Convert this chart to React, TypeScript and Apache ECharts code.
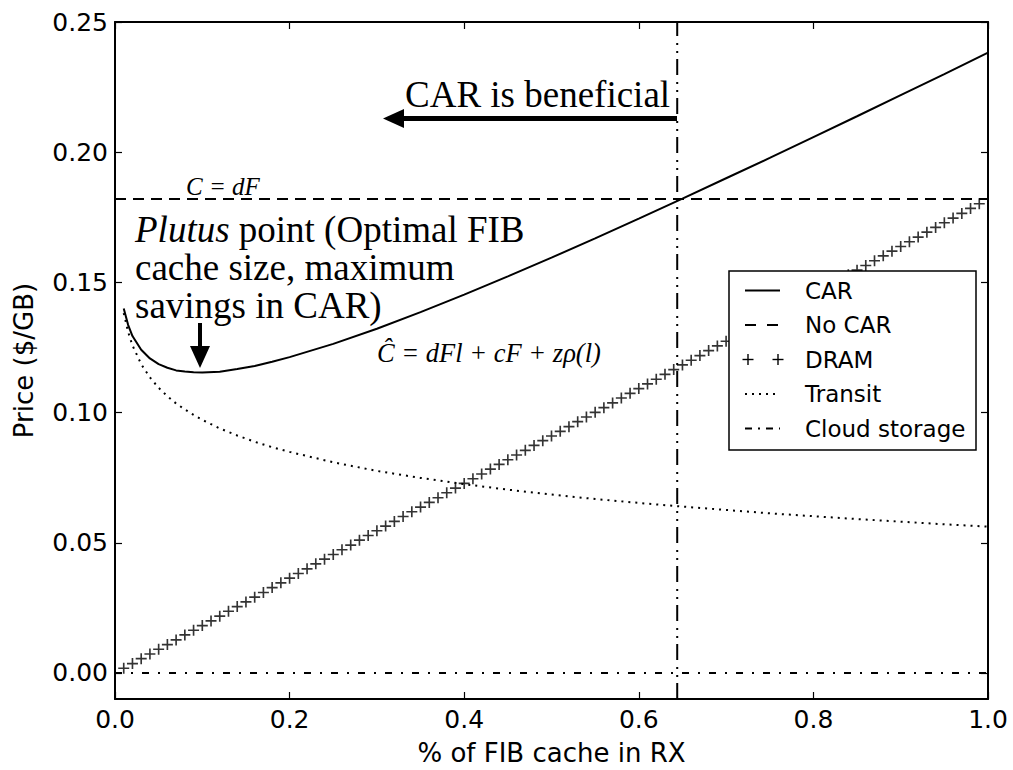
import React, { useEffect, useRef } from "react";
import * as echarts from "echarts";

// ---------- data ----------
const CURVE_X = [0.01, 0.015, 0.02, 0.03, 0.04, 0.05, 0.06, 0.07, 0.08, 0.09, 0.10, 0.12, 0.14, 0.16, 0.18, 0.20, 0.25, 0.30, 0.35, 0.40, 0.45, 0.50, 0.55, 0.60, 0.65, 0.70, 0.75, 0.80, 0.85, 0.90, 0.95, 1.00];
const CAR = [0.1400, 0.1337, 0.1294, 0.1241, 0.1208, 0.1186, 0.1172, 0.1162, 0.1158, 0.1155, 0.1154, 0.1157, 0.1167, 0.1179, 0.1195, 0.1213, 0.1264, 0.1322, 0.1386, 0.1453, 0.1523, 0.1595, 0.1669, 0.1745, 0.1822, 0.1900, 0.1978, 0.2058, 0.2138, 0.2219, 0.2300, 0.2382];
const TRANSIT = [0.1382, 0.1310, 0.1258, 0.1186, 0.1135, 0.1095, 0.1063, 0.1035, 0.1012, 0.0991, 0.0972, 0.0939, 0.0912, 0.0888, 0.0867, 0.0849, 0.0809, 0.0776, 0.0749, 0.0725, 0.0704, 0.0685, 0.0668, 0.0653, 0.0639, 0.0626, 0.0613, 0.0602, 0.0591, 0.0581, 0.0571, 0.0562];

const DRAM_X = [
  0.01, 0.02, 0.03, 0.04, 0.05, 0.06, 0.07, 0.08, 0.09, 0.10,
  0.11, 0.12, 0.13, 0.14, 0.15, 0.16, 0.17, 0.18, 0.19, 0.20,
  0.21, 0.22, 0.23, 0.24, 0.25, 0.26, 0.27, 0.28, 0.29, 0.30,
  0.31, 0.32, 0.33, 0.34, 0.35, 0.36, 0.37, 0.38, 0.39, 0.40,
  0.41, 0.42, 0.43, 0.44, 0.45, 0.46, 0.47, 0.48, 0.49, 0.50,
  0.51, 0.52, 0.53, 0.54, 0.55, 0.56, 0.57, 0.58, 0.59, 0.60,
  0.61, 0.62, 0.63, 0.64, 0.65, 0.66, 0.67, 0.68, 0.69, 0.70,
  0.71, 0.72, 0.73, 0.74, 0.75, 0.76, 0.77, 0.78, 0.79, 0.80,
  0.81, 0.82, 0.83, 0.84, 0.85, 0.86, 0.87, 0.88, 0.89, 0.90,
  0.91, 0.92, 0.93, 0.94, 0.95, 0.96, 0.97, 0.98, 0.99,
];
const DRAM = [
  0.0018, 0.0036, 0.0055, 0.0073, 0.0091, 0.0109, 0.0127, 0.0146, 0.0164, 0.0182,
  0.0200, 0.0218, 0.0237, 0.0255, 0.0273, 0.0291, 0.0309, 0.0328, 0.0346, 0.0364,
  0.0382, 0.0400, 0.0419, 0.0437, 0.0455, 0.0473, 0.0491, 0.0510, 0.0528, 0.0546,
  0.0564, 0.0582, 0.0601, 0.0619, 0.0637, 0.0655, 0.0673, 0.0692, 0.0710, 0.0728,
  0.0746, 0.0764, 0.0783, 0.0801, 0.0819, 0.0837, 0.0855, 0.0874, 0.0892, 0.0910,
  0.0928, 0.0946, 0.0965, 0.0983, 0.1001, 0.1019, 0.1037, 0.1056, 0.1074, 0.1092,
  0.1110, 0.1128, 0.1147, 0.1165, 0.1183, 0.1201, 0.1219, 0.1238, 0.1256, 0.1274,
  0.1292, 0.1310, 0.1329, 0.1347, 0.1365, 0.1383, 0.1401, 0.1420, 0.1438, 0.1456,
  0.1474, 0.1492, 0.1511, 0.1529, 0.1547, 0.1565, 0.1583, 0.1602, 0.1620, 0.1638,
  0.1656, 0.1674, 0.1693, 0.1711, 0.1729, 0.1747, 0.1765, 0.1784, 0.1802,
];

const NO_CAR = 0.182;
const CLOUD_STORAGE = 0.0;
const BREAK_EVEN_X = 0.644;
const X_RANGE = [0, 1];
const Y_RANGE = [-0.01, 0.25];
const Y_TICKS = [0, 0.05, 0.1, 0.15, 0.2, 0.25];

const LEGEND_LABELS = ["CAR", "No CAR", "DRAM", "Transit", "Cloud storage"];

// ---------- styling ----------
const SANS = '"DejaVu Sans", sans-serif';
const SERIF = '"Liberation Serif", "Times New Roman", serif';
const PLUS =
  "path://M4.25,0 L5.75,0 L5.75,4.25 L10,4.25 L10,5.75 L5.75,5.75 L5.75,10 L4.25,10 L4.25,5.75 L0,5.75 L0,4.25 L4.25,4.25 Z";

const zip = (xs: number[], ys: number[]) => xs.map((x, i) => [x, ys[i]]);

export default function App() {
  const ref = useRef<HTMLDivElement>(null);

  useEffect(() => {
    if (!ref.current) return;
    const chart = echarts.init(ref.current, null, { renderer: "svg" });

    const axisLine = { show: true, onZero: false, lineStyle: { color: "#000", width: 2 } };
    const tick = { show: true, inside: true, length: 7, lineStyle: { color: "#000", width: 1.2 } };

    // legend (drawn as graphics to match the sample styles)
    const lx1 = 745, lx2 = 780, ltx = 805;
    const ly = [290.5, 325, 359.5, 394, 428.5];
    const legendEls: any[] = [
      {
        type: "rect",
        shape: { x: 729, y: 271, width: 247, height: 179 },
        style: { fill: "#fff", stroke: "#000", lineWidth: 1.5 },
        z: 100,
      },
    ];
    const samples: any[] = [
      { lineDash: null },
      { lineDash: [11, 11] },
      null,
      { lineDash: [2, 5] },
      { lineDash: [7, 6, 2, 6] },
    ];
    LEGEND_LABELS.forEach((lab, i) => {
      const y = ly[i];
      const s = samples[i];
      if (s) {
        legendEls.push({
          type: "line",
          shape: { x1: lx1, y1: y, x2: lx2, y2: y },
          style: { stroke: "#000", lineWidth: 2, lineDash: s.lineDash || undefined },
          z: 101,
        });
      } else {
        [748, 778].forEach((cx) => {
          legendEls.push({
            type: "line",
            shape: { x1: cx - 5.5, y1: y, x2: cx + 5.5, y2: y },
            style: { stroke: "#000", lineWidth: 1.4 },
            z: 101,
          });
          legendEls.push({
            type: "line",
            shape: { x1: cx, y1: y - 5.5, x2: cx, y2: y + 5.5 },
            style: { stroke: "#000", lineWidth: 1.4 },
            z: 101,
          });
        });
      }
      legendEls.push({
        type: "text",
        x: ltx,
        y: y,
        style: {
          text: lab,
          fontSize: 23,
          fontFamily: SANS,
          fill: "#000",
          align: "left",
          verticalAlign: "middle",
        },
        z: 101,
      });
    });

    const annotations: any[] = [
      // "CAR is beneficial"
      {
        type: "text",
        x: 405,
        y: 94,
        style: { text: "CAR is beneficial", fontSize: 37, fontFamily: SERIF, fill: "#000", align: "left", verticalAlign: "middle" },
        z: 50,
      },
      {
        type: "line",
        shape: { x1: 400, y1: 118.5, x2: 677, y2: 118.5 },
        style: { stroke: "#000", lineWidth: 5 },
        z: 50,
      },
      {
        type: "polygon",
        shape: { points: [[383, 118.5], [404, 109], [404, 128]] },
        style: { fill: "#000" },
        z: 50,
      },
      // C = dF
      {
        type: "text",
        x: 186,
        y: 186,
        style: { text: "C = dF", fontSize: 25, fontStyle: "italic", fontFamily: SERIF, fill: "#000", align: "left", verticalAlign: "middle" },
        z: 50,
      },
      // Plutus point text
      {
        type: "text",
        x: 135,
        y: 229.5,
        style: {
          text: "{it|Plutus} point (Optimal FIB",
          fontSize: 37,
          fontFamily: SERIF,
          fill: "#000",
          align: "left",
          verticalAlign: "middle",
          rich: { it: { fontSize: 37, fontFamily: SERIF, fontStyle: "italic", fill: "#000" } },
        },
        z: 50,
      },
      {
        type: "text",
        x: 135,
        y: 267.5,
        style: { text: "cache size, maximum", fontSize: 37, fontFamily: SERIF, fill: "#000", align: "left", verticalAlign: "middle" },
        z: 50,
      },
      {
        type: "text",
        x: 135,
        y: 305,
        style: { text: "savings in CAR)", fontSize: 37, fontFamily: SERIF, fill: "#000", align: "left", verticalAlign: "middle" },
        z: 50,
      },
      // down arrow
      {
        type: "line",
        shape: { x1: 200, y1: 323, x2: 200, y2: 348 },
        style: { stroke: "#000", lineWidth: 4 },
        z: 50,
      },
      {
        type: "polygon",
        shape: { points: [[190, 346], [210, 346], [200, 368]] },
        style: { fill: "#000" },
        z: 50,
      },
      // formula
      {
        type: "text",
        x: 377,
        y: 353,
        style: { text: "\u0108 = dFl + cF + z\u03C1(l)", fontSize: 26.5, fontStyle: "italic", fontFamily: SERIF, fill: "#000", align: "left", verticalAlign: "middle" },
        z: 50,
      },
    ];

    chart.setOption({
      animation: false,
      backgroundColor: "#fff",
      grid: { left: 115, right: 25, top: 22, bottom: 71, containLabel: false, outerBoundsMode: "none" },
      xAxis: [
        {
          type: "value",
          position: "bottom",
          min: X_RANGE[0],
          max: X_RANGE[1],
          interval: 0.2,
          axisLine,
          axisTick: tick,
          splitLine: { show: false },
          axisLabel: {
            color: "#000",
            fontSize: 25,
            fontFamily: SANS,
            margin: 8,
            formatter: (v: number) => v.toFixed(1),
          },
          name: "% of FIB cache in RX",
          nameLocation: "middle",
          nameGap: 41,
          nameTextStyle: { color: "#000", fontSize: 26, fontFamily: SANS },
        },
        {
          type: "value",
          position: "top",
          min: X_RANGE[0],
          max: X_RANGE[1],
          interval: 0.2,
          axisLine,
          axisTick: tick,
          splitLine: { show: false },
          axisLabel: { show: false },
        },
      ],
      yAxis: [
        {
          type: "value",
          position: "left",
          min: Y_RANGE[0],
          max: Y_RANGE[1],
          axisLine,
          axisTick: { ...tick, customValues: Y_TICKS },
          splitLine: { show: false },
          axisLabel: {
            color: "#000",
            fontSize: 25,
            fontFamily: SANS,
            margin: 7,
            customValues: Y_TICKS,
            formatter: (v: number) => v.toFixed(2),
          },
          name: "Price ($/GB)",
          nameLocation: "middle",
          nameGap: 78,
          nameTextStyle: { color: "#000", fontSize: 26, fontFamily: SANS },
        },
        {
          type: "value",
          position: "right",
          min: Y_RANGE[0],
          max: Y_RANGE[1],
          axisLine,
          axisTick: { ...tick, customValues: Y_TICKS },
          splitLine: { show: false },
          axisLabel: { show: false, customValues: Y_TICKS },
        },
      ],
      series: [
        {
          name: "CAR",
          type: "line",
          data: zip(CURVE_X, CAR),
          showSymbol: false,
          symbol: "none",
          lineStyle: { color: "#000", width: 2 },
          z: 5,
        },
        {
          name: "No CAR",
          type: "line",
          data: [[X_RANGE[0], NO_CAR], [X_RANGE[1], NO_CAR]],
          symbol: "none",
          lineStyle: { color: "#000", width: 2, type: [11, 7] },
          z: 4,
        },
        {
          name: "DRAM",
          type: "scatter",
          data: zip(DRAM_X, DRAM),
          symbol: PLUS,
          symbolSize: 11,
          itemStyle: { color: "#000" },
          z: 4,
        },
        {
          name: "Transit",
          type: "line",
          data: zip(CURVE_X, TRANSIT),
          symbol: "none",
          lineStyle: { color: "#000", width: 2, type: [2, 5] },
          z: 4,
        },
        {
          name: "Cloud storage",
          type: "line",
          data: [[X_RANGE[0], CLOUD_STORAGE], [X_RANGE[1], CLOUD_STORAGE]],
          symbol: "none",
          lineStyle: { color: "#000", width: 2, type: [7, 9, 2, 9] },
          z: 4,
        },
        {
          name: "Break-even",
          type: "line",
          data: [[BREAK_EVEN_X, Y_RANGE[0]], [BREAK_EVEN_X, Y_RANGE[1]]],
          symbol: "none",
          lineStyle: { color: "#000", width: 2, type: [16, 6, 2, 6, 2, 7] },
          z: 4,
        },
      ],
      graphic: [...annotations, ...legendEls],
    });

    return () => chart.dispose();
  }, []);

  return (
    <div
      ref={ref}
      style={{ position: "absolute", left: 0, top: 0, width: 1013, height: 770, background: "#fff" }}
    />
  );
}
